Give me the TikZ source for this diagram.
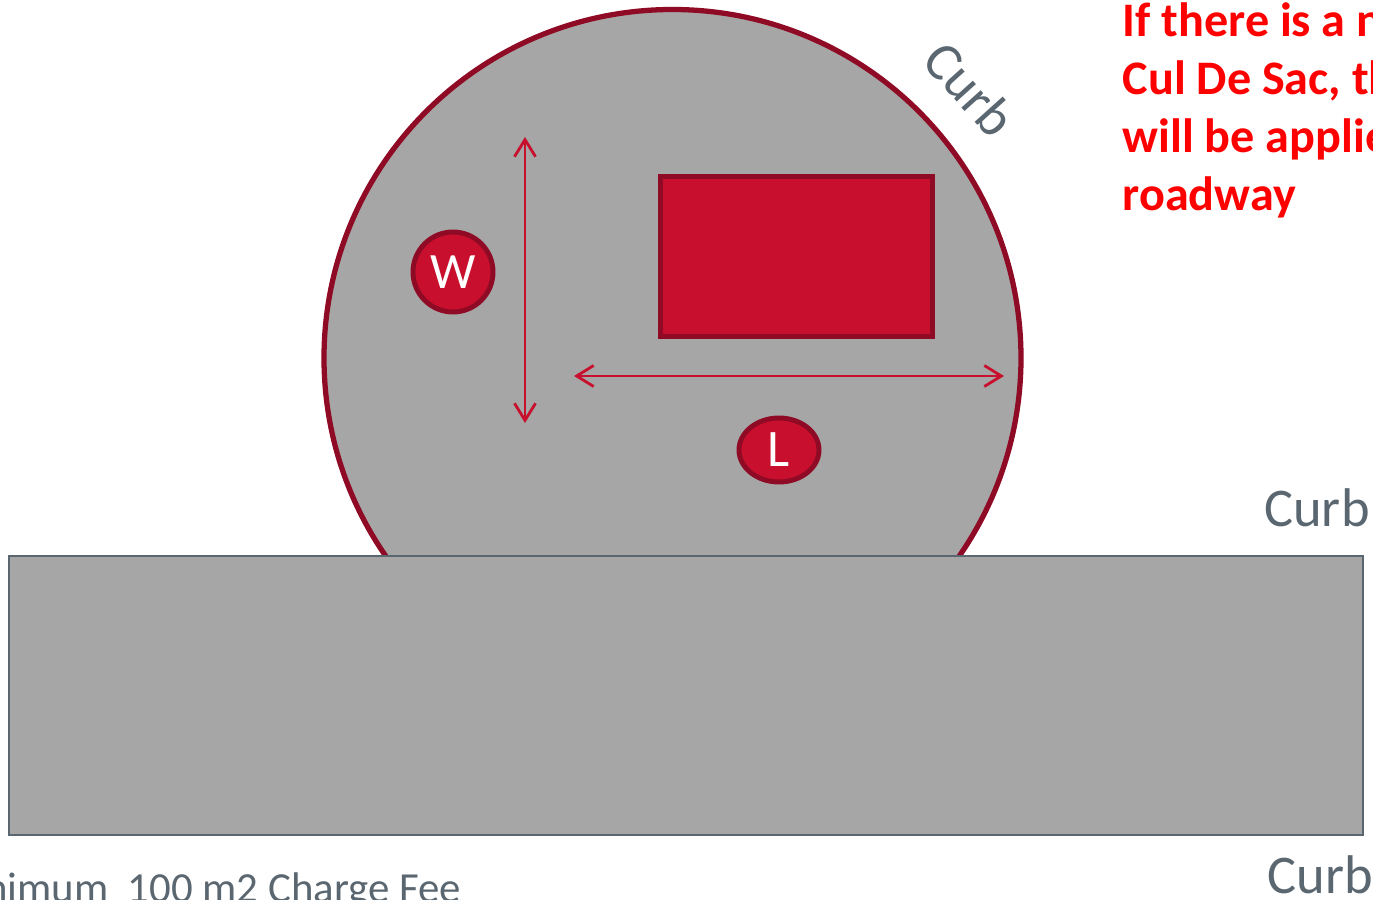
\documentclass[tikz,border=0pt]{standalone}
\usepackage{fontspec}
\setmainfont{Carlito}
\usetikzlibrary{arrows.meta,shapes.geometric}
\definecolor{roadgrey}{HTML}{A6A6A6}
\definecolor{curbline}{HTML}{5B6770}
\definecolor{lotred}{HTML}{C8102E}
\definecolor{lotdark}{HTML}{8F0A24}
\tikzset{
    curblabel/.style={text=curbline, font=\fontsize{15.5}{18}\selectfont, inner sep=0pt},
    dimline/.style={draw=lotred, line width=0.8pt, {Straight Barb[length=1.7mm,width=2.1mm]}-{Straight Barb[length=1.7mm,width=2.1mm]}},
    dimbadge/.style={draw=lotdark, fill=lotred, line width=1.4pt, text=white, inner sep=0pt}
}
\begin{document}
\begin{tikzpicture}[>=stealth]
    \useasboundingbox (0,0) rectangle (13.73,9);
    \clip (0,0) rectangle (13.73,9);

    % Cul de sac and road
    \node[draw=lotdark, fill=roadgrey, circle, line width=1.5pt, minimum size=6.97cm, inner sep=0pt] (bulb) at (6.725, 5.42) {};
    \node[draw=curbline, fill=roadgrey, line width=0.7pt, minimum width=13.54cm, minimum height=2.79cm, inner sep=0pt] (road) at (6.86, 2.045) {};

    % Plot
    \node[draw=lotdark, fill=lotred, line width=1.4pt, minimum width=2.72cm, minimum height=1.60cm, inner sep=0pt] (plot) at (7.965, 6.435) {};

    % Width
    \coordinate (wtop) at (5.25, 7.63);
    \coordinate (wbot) at (5.25, 4.77);
    \draw[dimline] (wbot) -- (wtop);
    \node[dimbadge, circle, minimum size=0.8cm, font=\fontsize{14.5}{17}\selectfont] (wbadge) at (4.53, 6.28) {W};

    % Length
    \coordinate (lleft) at (5.74, 5.24);
    \coordinate (lright) at (10.04, 5.24);
    \draw[dimline] (lleft) -- (lright);
    \node[dimbadge, ellipse, minimum width=0.8cm, minimum height=0.64cm, font=\fontsize{15}{18}\selectfont] (lbadge) at (7.79, 4.5) {L};

    % Labels
    \node[curblabel, rotate=-48] (curbbulb) at (9.7, 8.11) {Curb};
    \node[curblabel] (curbtop) at (13.17, 3.92) {Curb};
    \node[curblabel] (curbbot) at (13.2, 0.25) {Curb};
    \node[text=curbline, font=\fontsize{12.2}{14}\selectfont, inner sep=0pt, anchor=base east] (fee) at (4.62, -0.03) {Minimum\ \ 100 m2 Charge Fee};
    \node[text=red, font=\fontsize{13.7}{16.5}\bfseries\selectfont, align=left, inner sep=0pt, anchor=north west] (note) at (11.22, 8.98) {If there is a n\\Cul De Sac, th\\will be applie\\roadway};
\end{tikzpicture}
\end{document}
